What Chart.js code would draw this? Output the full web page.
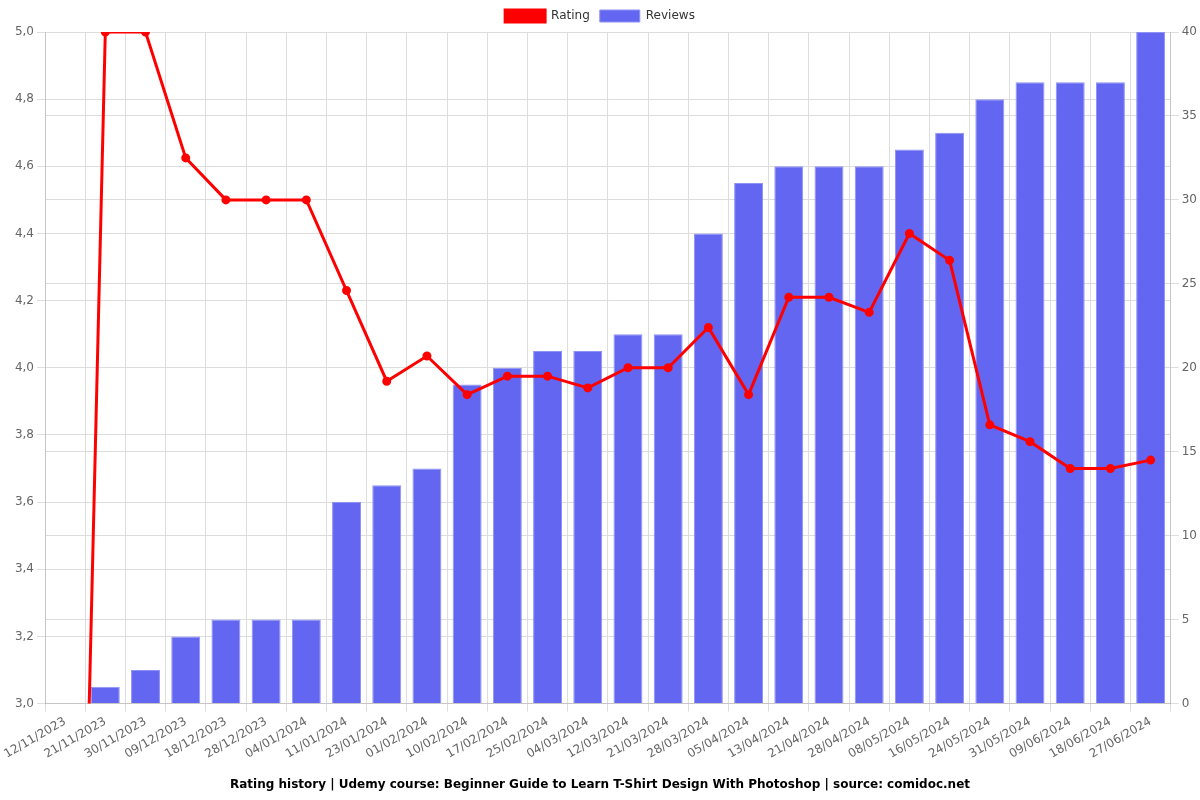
<!DOCTYPE html>
<html><head><meta charset="utf-8">
<script src="https://cdn.jsdelivr.net/npm/chart.js@4/dist/chart.umd.min.js"></script>
<style>html,body{margin:0;padding:0;background:#fff}#wrap{width:1200px;height:800px}</style>
</head><body><div id="wrap"><canvas id="c"></canvas></div>
<script>
const categories = ["12/11/2023","21/11/2023","30/11/2023","09/12/2023","18/12/2023","28/12/2023","04/01/2024","11/01/2024","23/01/2024","01/02/2024","10/02/2024","17/02/2024","25/02/2024","04/03/2024","12/03/2024","21/03/2024","28/03/2024","05/04/2024","13/04/2024","21/04/2024","28/04/2024","08/05/2024","16/05/2024","24/05/2024","31/05/2024","09/06/2024","18/06/2024","27/06/2024"];
const ratings = [0,5.0,5.0,4.625,4.5,4.5,4.5,4.23,3.96,4.035,3.92,3.975,3.975,3.94,4.0,4.0,4.12,3.92,4.21,4.21,4.165,4.4,4.32,3.83,3.78,3.70,3.70,3.725];
const reviews = [0,1,2,4,5,5,5,12,13,14,19,20,21,21,22,22,28,31,32,32,32,33,34,36,37,37,37,40];
const titleText = "Rating history | Udemy course: Beginner Guide to Learn T-Shirt Design With Photoshop | source: comidoc.net";

Chart.defaults.font.family = "'DejaVu Sans', sans-serif";
Chart.defaults.font.size = 12;
Chart.defaults.color = '#666';
new Chart(document.getElementById('c'), {
  data: {
    labels: categories,
    datasets: [
      {type:'line', label:'Rating', data: ratings, borderColor:'#ff0000', backgroundColor:'#ff0000', borderWidth:3, pointRadius:3, pointBackgroundColor:'#ff0000', yAxisID:'y', tension:0, order:0},
      {type:'bar', label:'Reviews', data: reviews, backgroundColor:'#6366f1', borderColor:'#8f92f5', borderWidth:1, yAxisID:'y1', order:1, categoryPercentage:0.8, barPercentage:0.9}
    ]
  },
  options: {
    responsive:true, maintainAspectRatio:false, animation:false,
    layout:{padding:{left:0,right:0,top:0,bottom:0}},
    plugins:{
      legend:{position:'top', labels:{boxWidth:40, boxHeight:12, padding:10, color:'#333'}},
      title:{display:true, text:titleText, position:'bottom', color:'#000', font:{weight:'bold', size:12}, padding:{top:13,bottom:8}},
      tooltip:{enabled:false}
    },
    scales:{
      x:{offset:true, grid:{offset:true, color:'#ddd'}, ticks:{maxRotation:30, minRotation:30, autoSkip:false, color:'#666'}},
      y:{position:'left', min:3, max:5, afterFit:s=>{s.width=45;}, ticks:{stepSize:0.2, callback:v=>v.toFixed(1).replace('.',',')}, grid:{color:'#ddd'}},
      y1:{position:'right', min:0, max:40, ticks:{stepSize:5}, grid:{color:'#ddd'}}
    }
  }
});
</script></body></html>
